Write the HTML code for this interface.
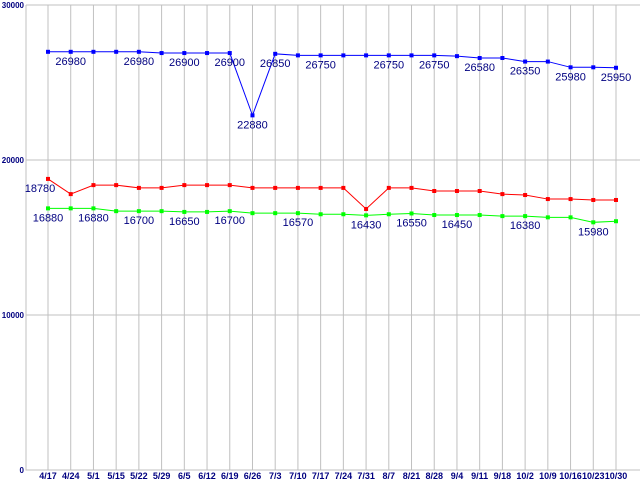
<!DOCTYPE html>
<html><head><meta charset="utf-8"><style>body{margin:0;background:#fff}svg{display:block}</style></head>
<body>
<svg id="chart" width="640" height="480" xmlns="http://www.w3.org/2000/svg" font-family="Liberation Sans, sans-serif"></svg>
<script>
const categories=["4/17","4/24","5/1","5/15","5/22","5/29","6/5","6/12","6/19","6/26","7/3","7/10","7/17","7/24","7/31","8/7","8/21","8/28","9/4","9/11","9/18","10/2","10/9","10/16","10/23","10/30"];
const blueValues=[26980,26980,26980,26980,26980,26900,26900,26900,26900,22880,26850,26750,26750,26750,26750,26750,26750,26750,26700,26580,26580,26350,26350,25980,25980,25950];
const redValues=[18780,17800,18380,18380,18200,18200,18380,18380,18380,18200,18200,18200,18200,18200,16840,18200,18200,18000,18000,18000,17800,17740,17480,17480,17420,17420];
const greenValues=[16880,16880,16880,16700,16700,16700,16650,16650,16700,16570,16570,16570,16500,16500,16430,16500,16550,16450,16450,16450,16380,16380,16300,16300,15980,16050];
const blueLabelIdx=[1,4,6,8,9,10,12,15,17,19,21,23,25];
const redLabelIdx=[0];
const greenLabelIdx=[0,2,4,6,8,11,14,16,18,21,24];
const yTicks=[0,10000,20000,30000];
const NS="http://www.w3.org/2000/svg",svg=document.getElementById('chart');
const x0=48,dx=(616-48)/25,L=26,R=640,T=5,B=470;
const X=i=>x0+i*dx, Y=v=>B-(v/30000)*(B-T);
function el(t,a,p){const e=document.createElementNS(NS,t);for(const k in a)e.setAttribute(k,a[k]);(p||svg).appendChild(e);return e;}
const grid=el('g',{});


yTicks.forEach(v=>{
  const l=el('line',{x1:L,x2:R,y1:Y(v),y2:Y(v),stroke:'#c0c0c0'},grid);
  
  
  const t=el('text',{x:L-2,y:Y(v)+3,'text-anchor':'end','font-size':'8','font-weight':'bold',fill:'#000080'});
  t.textContent=v;
  
  
});
categories.forEach((c,i)=>{
  const l=el('line',{x1:X(i),x2:X(i),y1:T,y2:B,stroke:'#c0c0c0'},grid);
  
  
  const t=el('text',{x:X(i),y:479,'text-anchor':'middle','font-size':'9','font-weight':'bold',fill:'#000080'});
  t.textContent=c;
  
  
});
const ax=el('path',{d:`M${L} ${T}V${B}H${R}`,stroke:'#c0c0c0',fill:'none'});


function series(vals,color,name,labels,lx){
  const g=el('g',{});
  
  
  const p=el('polyline',{points:vals.map((v,i)=>X(i)+','+Y(v)).join(' '),fill:'none',stroke:color,'stroke-width':1},g);
  
  
  vals.forEach((v,i)=>{
    const r=el('rect',{x:X(i)-2,y:Y(v)-2,width:4,height:4,fill:color},g);
    
    
  });
  labels.forEach(i=>{
    const t=el('text',{x:X(i)+lx,y:Y(vals[i])+13,'text-anchor':'middle','font-size':'11',fill:'#000080'},g);
    t.textContent=vals[i];
    
    
  });
}
series(blueValues,'#0000ff','blue-series',blueLabelIdx,0);
series(redValues,'#ff0000','red-series',redLabelIdx,-8);
series(greenValues,'#00ff00','green-series',greenLabelIdx,0);
</script>
</body></html>
